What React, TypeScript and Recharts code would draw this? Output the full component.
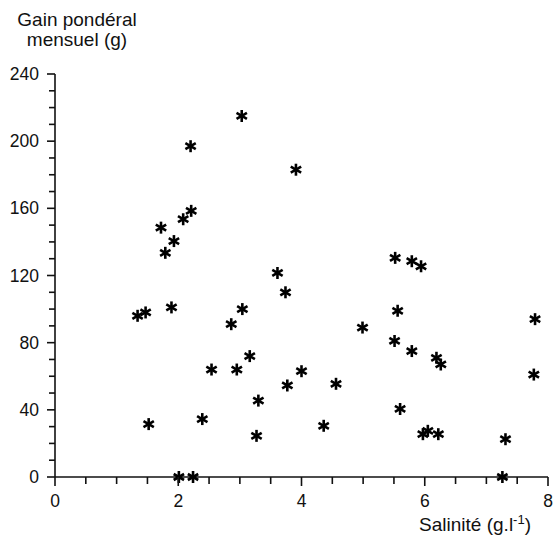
import React from 'react';
import { ScatterChart, Scatter, XAxis, YAxis } from 'recharts';

const salinity = [3.03, 2.2, 3.91, 2.21, 2.08, 1.72, 1.93, 1.79, 3.61, 3.74, 1.34, 1.47, 1.89, 3.04, 2.86, 3.16, 2.54, 2.95, 4.0, 3.77, 4.56, 3.3, 1.52, 2.39, 4.36, 3.27, 2.01, 2.24, 5.52, 5.79, 5.94, 5.56, 4.99, 7.79, 5.51, 5.79, 6.19, 6.26, 7.77, 5.6, 5.97, 6.05, 6.22, 7.31, 7.26];
const gain = [215, 197, 183, 158.5, 153.5, 148.5, 140.5, 133.5, 121.5, 110, 96, 98, 101, 100, 91, 72, 64, 64, 63, 54.5, 55.5, 45.5, 31.5, 34.5, 30.5, 24.5, 0, 0, 130.5, 128.5, 125.5, 99, 89, 94, 81, 75, 71, 67, 61, 40.5, 25.5, 27.5, 25.5, 22.5, 0];

const xTicks = [0, 0.5, 1, 1.5, 2, 2.5, 3, 3.5, 4, 4.5, 5, 5.5, 6, 6.5, 7, 7.5, 8];
const xLabels = [0, 2, 4, 6, 8];
const yTicks = [0, 10, 20, 30, 40, 50, 60, 70, 80, 90, 100, 110, 120, 130, 140, 150, 160, 170, 180, 190, 200, 210, 220, 230, 240];
const yLabels = [0, 40, 80, 120, 160, 200, 240];

const titleLines = ['Gain pondéral', 'mensuel (g)'];
const xTitle = 'Salinité (g.l';
const xTitleSup = '-1';

const data = salinity.map((s, i) => ({ s, g: gain[i] }));

const FONT = '"Liberation Sans", Arial, Helvetica, sans-serif';

const XTick = (props: any) => {
  const { x, y, payload } = props;
  const v = payload.value;
  const major = xLabels.includes(v);
  return (
    <g>
      <line x1={x} x2={x} y1={y} y2={y + (major ? 9 : 7)} stroke="#111" strokeWidth={1.6} />
      {major && (
        <text x={x} y={y + 30} textAnchor="middle" fontSize={17.5} fontFamily={FONT} fill="#111">
          {v}
        </text>
      )}
    </g>
  );
};

const YTick = (props: any) => {
  const { x, y, payload } = props;
  const v = payload.value;
  const major = yLabels.includes(v);
  return (
    <g>
      <line x1={x} x2={x - (major ? 8 : 6)} y1={y} y2={y} stroke="#111" strokeWidth={1.6} />
      {major && (
        <text x={x - 16} y={y} dy="0.35em" textAnchor="end" fontSize={17.5} fontFamily={FONT} fill="#111">
          {v}
        </text>
      )}
    </g>
  );
};

const Star = (props: any) => {
  const { cx, cy } = props;
  const r = 6;
  const lines = [90, 30, 150].map((a) => {
    const rad = (a * Math.PI) / 180;
    const dx = r * Math.cos(rad);
    const dy = r * Math.sin(rad);
    return <line key={a} x1={cx - dx} y1={cy - dy} x2={cx + dx} y2={cy + dy} stroke="#000" strokeWidth={2.6} />;
  });
  return <g>{lines}</g>;
};

const XLabel = (props: any) => {
  const vb = props.viewBox || {};
  const right = (vb.x || 0) + (vb.width || 0);
  const top = vb.y || 0;
  return (
    <text x={right - 17} y={top + 54} textAnchor="end" fontSize={19} fontFamily={FONT} fill="#111">
      {xTitle}
      <tspan dy={-7} fontSize={13}>{xTitleSup}</tspan>
      <tspan dy={7}>)</tspan>
    </text>
  );
};

const YLabel = (props: any) => {
  const vb = props.viewBox || {};
  const axisX = (vb.x || 0) + (vb.width || 0);
  const top = vb.y || 0;
  return (
    <g>
      <text x={axisX + 22} y={top - 48} textAnchor="middle" fontSize={19} fontFamily={FONT} fill="#111">
        {titleLines[0]}
      </text>
      <text x={axisX + 22} y={top - 28} textAnchor="middle" fontSize={19} fontFamily={FONT} fill="#111">
        {titleLines[1]}
      </text>
    </g>
  );
};

export default function App() {
  return (
    <div style={{ position: 'absolute', left: 0, top: 0, width: 555, height: 535, background: '#fff' }}>
      <ScatterChart width={555} height={535} margin={{ top: 74, right: 7, bottom: 18, left: 10 }}>
        <XAxis
          type="number"
          dataKey="s"
          domain={[0, 8]}
          ticks={xTicks}
          interval={0}
          tickSize={0}
          tickMargin={0}
          tickLine={false}
          tick={<XTick />}
          height={40}
          axisLine={{ stroke: '#111', strokeWidth: 1.6 }}
          label={<XLabel />}
        />
        <YAxis
          type="number"
          dataKey="g"
          domain={[0, 240]}
          ticks={yTicks}
          interval={0}
          tickSize={0}
          tickMargin={0}
          tickLine={false}
          tick={<YTick />}
          width={45}
          axisLine={{ stroke: '#111', strokeWidth: 1.6 }}
          label={<YLabel />}
        />
        <Scatter data={data} shape={<Star />} isAnimationActive={false} />
      </ScatterChart>
    </div>
  );
}
